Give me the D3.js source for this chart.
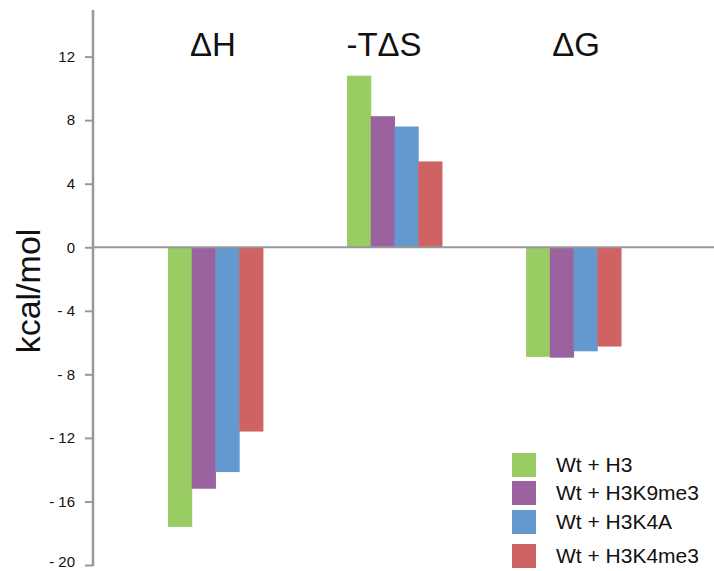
<!DOCTYPE html>
<html>
<head>
<meta charset="utf-8">
<script src="https://cdn.jsdelivr.net/npm/d3@7"></script>
<style>
  body { margin: 0; background: #fff; }
  text { font-family: "Liberation Sans", Arial, sans-serif; fill: #111; }
</style>
</head>
<body>
<svg width="714" height="571"></svg>
<script>
//chart data
const terms = ["ΔH", "-TΔS", "ΔG"]
  , series = ["Wt + H3", "Wt + H3K9me3", "Wt + H3K4A", "Wt + H3K4me3"]
  , colors = ["#99cc62", "#9a63a0", "#6399cf", "#cf6262"]
  , values = [
      [-17.6, 10.8, -6.9],   //Wt + H3
      [-15.2, 8.25, -6.95],  //Wt + H3K9me3
      [-14.15, 7.6, -6.55],  //Wt + H3K4A
      [-11.6, 5.4, -6.25]    //Wt + H3K4me3
    ]
  , yTicks = [12, 8, 4, 0, -4, -8, -12, -16, -20];

let svg = d3.select("svg");

let y = d3.scaleLinear().domain([-20, 12]).range([565, 56.6]);

let x = d3.scaleBand().domain(terms).range([168, 621]).paddingInner(0.47).paddingOuter(0);
let xs = d3.scaleBand().domain(series).range([0, x.bandwidth()]);

//bars
series.forEach((s, i) => {
  svg.append("g").selectAll("rect").data(values[i]).enter().append("rect")
    .attr("x", (d, j) => x(terms[j]) + xs(s))
    .attr("width", xs.bandwidth() + 0.5)
    .attr("y", d => y(Math.max(0, d)))
    .attr("height", d => Math.abs(y(d) - y(0)))
    .style("fill", colors[i]);
});

//y axis
let axis = svg.append("g").attr("transform", "translate(93,0)")
  .call(d3.axisLeft(y).tickValues(yTicks).tickSize(8).tickPadding(10)
    .tickFormat(d => d < 0 ? "- " + Math.abs(d) : d));
axis.select(".domain").remove();
axis.selectAll(".tick line").attr("stroke", "#999").attr("stroke-width", 2);
axis.selectAll(".tick text").style("font-size", "15px").style("fill", "#111")
  .style("font-family", "'Liberation Sans', Arial, sans-serif");
//keep the bottom label inside the picture
axis.selectAll(".tick text").filter(d => d == -20).attr("dy", "0.1em");
axis.append("line").attr("y1", 10).attr("y2", y(-20) + 1)
  .attr("stroke", "#999").attr("stroke-width", 2.5);

//zero line
svg.append("line").attr("x1", 93).attr("x2", 714).attr("y1", y(0)).attr("y2", y(0))
  .attr("stroke", "#999").attr("stroke-width", 2);

//group titles
const titleX = [213, 384, 576];
svg.selectAll(".title").data(terms).enter().append("text")
  .attr("x", (d, i) => titleX[i]).attr("y", 56)
  .attr("text-anchor", "middle").style("font-size", "33px").text(d => d);

//y label
svg.append("text").attr("transform", "translate(40,291) rotate(-90)")
  .attr("text-anchor", "middle").style("font-size", "34px").text("kcal/mol");

//legend
const legY = [453, 481, 510, 544];
let leg = svg.selectAll(".leg").data(series).enter().append("g")
  .attr("transform", (d, i) => "translate(512," + legY[i] + ")");
leg.append("rect").attr("width", 24).attr("height", 24).style("fill", (d, i) => colors[i]);
leg.append("text").attr("x", 44).attr("y", 19).style("font-size", "21px").text(d => d);
</script>
</body>
</html>
